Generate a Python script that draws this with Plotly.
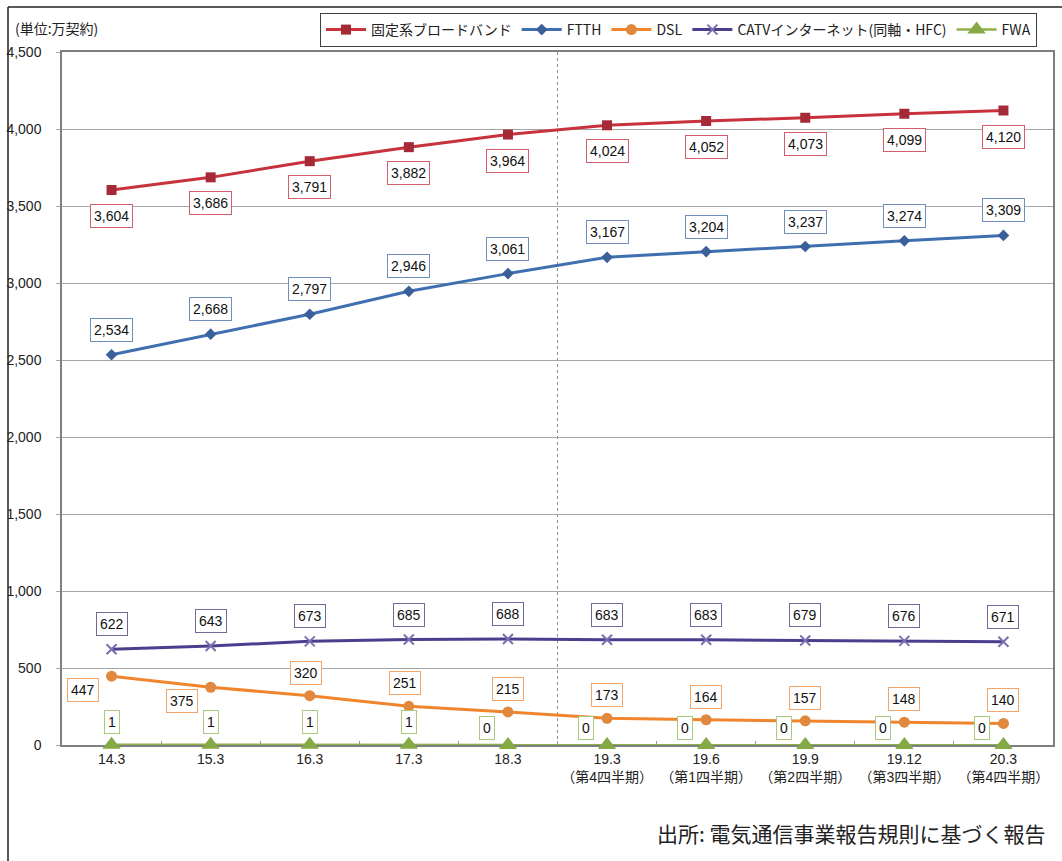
import plotly.graph_objects as go

# ---- data ----
categories = ["14.3", "15.3", "16.3", "17.3", "18.3", "19.3", "19.6", "19.9", "19.12", "20.3"]
tick_labels = ["14.3", "15.3", "16.3", "17.3", "18.3",
               "19.3<br>（第4四半期）", "19.6<br>（第1四半期）", "19.9<br>（第2四半期）",
               "19.12<br>（第3四半期）", "20.3<br>（第4四半期）"]
fixed_bb = [3604, 3686, 3791, 3882, 3964, 4024, 4052, 4073, 4099, 4120]
ftth = [2534, 2668, 2797, 2946, 3061, 3167, 3204, 3237, 3274, 3309]
dsl = [447, 375, 320, 251, 215, 173, 164, 157, 148, 140]
catv = [622, 643, 673, 685, 688, 683, 683, 679, 676, 671]
fwa = [1, 1, 1, 1, 0, 0, 0, 0, 0, 0]

series_names = ["固定系ブロードバンド", "FTTH", "DSL", "CATVインターネット(同軸・HFC)", "FWA"]

# ---- styles ----
W, H = 1062, 861
ML, MR, MT, MB = 62, 9, 52, 116
PW, PH = W - ML - MR, H - MT - MB

styles = [
    dict(line="#C8323C", marker="#A32A36", symbol="square", size=10, box="#D45E6A", lw=3),
    dict(line="#3F6FB0", marker="#3A5F99", symbol="diamond", size=9, box="#6F8FBF", lw=3),
    dict(line="#F0852D", marker="#E0893E", symbol="circle", size=11, box="#F4A56A", lw=3),
    dict(line="#4A3F8E", marker="#7A6FB0", symbol="x-thin", size=10, box="#6F6A9A", lw=3),
    dict(line="#8DB048", marker="#84A945", symbol="triangle-up", size=16, box="#A9C97D", lw=2.5),
]
values = [fixed_bb, ftth, dsl, catv, fwa]

fig = go.Figure()
for name, vals, st in zip(series_names, values, styles):
    fig.add_trace(go.Scatter(
        x=categories, y=vals, name=name, mode="lines+markers",
        line=dict(color=st["line"], width=st["lw"]),
        marker=dict(color=st["marker"], symbol=st["symbol"], size=st["size"],
                    line=dict(color=st["marker"], width=2 if st["symbol"] == "x-thin" else 0)),
        cliponaxis=False,
    ))

# label placements (pixel shifts) per point
def shifts_for(series_idx, i, v):
    if series_idx == 0:
        return 0, -26
    if series_idx in (1, 3):
        return 0, 25
    if series_idx == 2:
        if i < 2:
            return -29, -14
        return (-4 if i in (2, 3) else 0), 23
    if series_idx == 4:
        if v >= 1:
            return 0, 23
        return -21, 17
    return 0, 0

annotations = []
for si, (vals, st) in enumerate(zip(values, styles)):
    for i, v in enumerate(vals):
        xs, ys = shifts_for(si, i, v)
        annotations.append(dict(
            x=i, y=v, xref="x", yref="y", text=f"{v:,}", showarrow=False,
            xshift=xs, yshift=ys,
            font=dict(family="Liberation Sans, Arial", size=14, color="#111111"),
            bgcolor="white", bordercolor=st["box"], borderwidth=1, borderpad=3,
        ))

annotations.append(dict(
    x=(13 - ML) / PW, y=(H - MB - 28) / PH, xref="paper", yref="paper",
    xanchor="left", yanchor="middle", text="(単位:万契約)", showarrow=False,
    font=dict(family="Noto Sans CJK JP", size=14, color="#222222"),
))
annotations.append(dict(
    x=(1048 - ML) / PW, y=(H - MB - 833) / PH, xref="paper", yref="paper",
    xanchor="right", yanchor="middle", text="出所: 電気通信事業報告規則に基づく報告",
    showarrow=False, font=dict(family="Noto Sans CJK JP", size=21, color="#222222"),
))

shapes = [
    # dashed divider between 18.3 and 19.3
    dict(type="line", xref="x", yref="y", x0=4.5, x1=4.5, y0=0, y1=4500,
         line=dict(color="#8C8C8C", width=1, dash="dot"), layer="below"),
    # outer frame (top and left edges)
    dict(type="line", xref="paper", yref="paper",
         x0=(8 - ML) / PW, x1=(W + 5 - ML) / PW,
         y0=(H - MB - 7) / PH, y1=(H - MB - 7) / PH,
         line=dict(color="#222222", width=1.5)),
    dict(type="line", xref="paper", yref="paper",
         x0=(8 - ML) / PW, x1=(8 - ML) / PW,
         y0=(H - MB - 7) / PH, y1=(H - MB - H - 5) / PH,
         line=dict(color="#222222", width=1.5)),
]

fig.update_layout(
    width=W, height=H,
    margin=dict(l=ML, r=MR, t=MT, b=MB, pad=0, autoexpand=False),
    paper_bgcolor="white", plot_bgcolor="white",
    font=dict(family="Liberation Sans, Arial", size=14, color="#222222"),
    showlegend=True,
    legend=dict(
        orientation="h", x=(1037 - ML) / PW, xanchor="right",
        y=(H - MB - 13) / PH, yanchor="top",
        bgcolor="white", bordercolor="#404040", borderwidth=1,
        font=dict(family="Noto Sans CJK JP", size=14, color="#222222"),
        itemwidth=40, tracegroupgap=0,
    ),
    annotations=annotations,
    shapes=shapes,
)
fig.update_xaxes(
    type="category", range=[-0.5, 9.5],
    tickvals=categories, ticktext=tick_labels, tickangle=0, automargin=False,
    showline=True, linecolor="#7F7F7F", linewidth=1.5, mirror=True,
    ticks="inside", tickson="boundaries", ticklen=4, tickcolor="#9A9A9A",
    showgrid=False, zeroline=False, layer="below traces",
    tickfont=dict(family="Liberation Sans, Noto Sans CJK JP", size=14, color="#222222"),
)
fig.update_yaxes(
    range=[0, 4500], dtick=500, tickformat=",", automargin=False,
    showline=True, linecolor="#7F7F7F", linewidth=1.5, mirror=True,
    ticks="outside", ticklen=4, tickcolor="#A6A6A6",
    showgrid=True, gridcolor="#A6A6A6", gridwidth=1, zeroline=False, layer="below traces",
    tickfont=dict(family="Liberation Sans, Arial", size=14, color="#222222"),
    ticklabelstandoff=12,
)

fig.write_html("out.html")
